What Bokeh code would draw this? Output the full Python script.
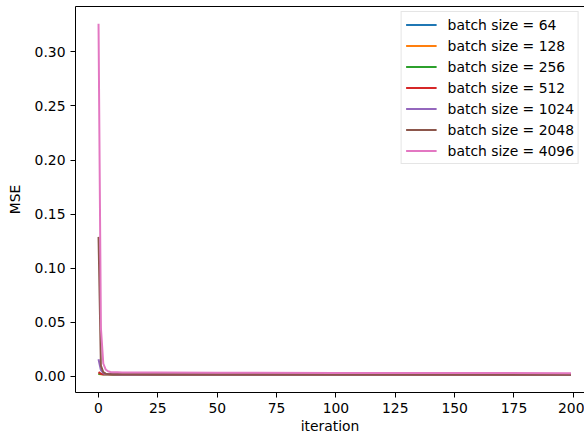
from bokeh.plotting import figure
from bokeh.models import LinearAxis, FixedTicker, Range1d, NumeralTickFormatter
from bokeh.embed import file_html
from bokeh.resources import INLINE

iterations = [0, 1, 2, 3, 4, 5, 6, 8, 10, 15, 25, 50, 100, 150, 199]

mse_64 = [0.0025, 0.0022, 0.0021, 0.0020, 0.0020, 0.0020, 0.0019, 0.0019, 0.0019, 0.0019, 0.0018, 0.0018, 0.0018, 0.0017, 0.0017]
mse_128 = [0.0024, 0.0021, 0.0020, 0.0020, 0.0020, 0.0019, 0.0019, 0.0019, 0.0019, 0.0019, 0.0018, 0.0018, 0.0018, 0.0017, 0.0017]
mse_256 = [0.0026, 0.0022, 0.0020, 0.0020, 0.0020, 0.0020, 0.0019, 0.0019, 0.0019, 0.0019, 0.0019, 0.0018, 0.0018, 0.0018, 0.0017]
mse_512 = [0.0040, 0.0025, 0.0021, 0.0020, 0.0020, 0.0020, 0.0020, 0.0019, 0.0019, 0.0019, 0.0019, 0.0018, 0.0018, 0.0018, 0.0018]
mse_1024 = [0.0160, 0.0060, 0.0030, 0.0023, 0.0021, 0.0020, 0.0020, 0.0019, 0.0019, 0.0019, 0.0019, 0.0018, 0.0018, 0.0018, 0.0018]
mse_2048 = [0.1290, 0.0100, 0.0040, 0.0026, 0.0022, 0.0021, 0.0021, 0.0020, 0.0020, 0.0020, 0.0019, 0.0019, 0.0019, 0.0018, 0.0018]
mse_4096 = [0.3260, 0.0450, 0.0120, 0.0065, 0.0048, 0.0042, 0.0039, 0.0038, 0.0037, 0.0036, 0.0036, 0.0035, 0.0033, 0.0032, 0.0031]

series_labels = ["batch size = 64", "batch size = 128", "batch size = 256", "batch size = 512",
                 "batch size = 1024", "batch size = 2048", "batch size = 4096"]
series_values = [mse_64, mse_128, mse_256, mse_512, mse_1024, mse_2048, mse_4096]
colors = ["#1f77b4", "#ff7f0e", "#2ca02c", "#d62728", "#9467bd", "#8c564b", "#e377c2"]

x_ticks = [0, 25, 50, 75, 100, 125, 150, 175, 200]
y_ticks = [0.0, 0.05, 0.10, 0.15, 0.20, 0.25, 0.30]

FONT = "DejaVu Sans"
FS = "13.9px"

p = figure(width=584, height=436, output_backend="svg", toolbar_location=None,
           x_range=Range1d(-9.7, 204.7), y_range=Range1d(-0.0148, 0.3419),
           min_border_left=75, min_border_right=0, min_border_top=6, min_border_bottom=44)
p.outline_line_color = None
p.xgrid.visible = False
p.ygrid.visible = False
p.background_fill_color = "white"
p.border_fill_color = "white"

for lab, vals, col in zip(series_labels, series_values, colors):
    p.line(iterations, vals, line_color=col, line_width=2, legend_label=lab)

for ax in (p.xaxis[0], p.yaxis[0]):
    ax.axis_line_color = "black"
    ax.axis_line_width = 1
    ax.major_tick_line_color = "black"
    ax.major_tick_out = 5
    ax.major_tick_in = 0
    ax.minor_tick_line_color = None
    ax.major_label_text_font = FONT
    ax.major_label_text_font_size = FS
    ax.major_label_text_color = "black"
    ax.axis_label_text_font = FONT
    ax.axis_label_text_font_size = FS
    ax.axis_label_text_font_style = "normal"
    ax.axis_label_text_color = "black"

p.xaxis[0].ticker = FixedTicker(ticks=x_ticks)
p.yaxis[0].ticker = FixedTicker(ticks=y_ticks)
p.yaxis[0].formatter = NumeralTickFormatter(format="0.00")
p.xaxis[0].axis_label = "iteration"
p.yaxis[0].axis_label = "MSE"
p.xaxis[0].major_label_standoff = 5
p.xaxis[0].axis_label_standoff = 2
p.yaxis[0].major_label_standoff = 5
p.yaxis[0].axis_label_standoff = 9

top = LinearAxis(ticker=FixedTicker(ticks=[]), axis_line_color="black", axis_line_width=1,
                 major_tick_line_color=None, minor_tick_line_color=None)
p.add_layout(top, "above")

lg = p.legend[0]
lg.location = "top_right"
lg.margin = 5
lg.padding = 4
lg.spacing = 4
lg.label_height = 17
lg.glyph_height = 17
lg.glyph_width = 31
lg.label_standoff = 11
lg.label_text_font = FONT
lg.label_text_font_size = FS
lg.label_text_color = "black"
lg.border_line_color = "#cccccc"
lg.border_line_width = 1
lg.background_fill_alpha = 0.8

open("out.html", "w").write(file_html(p, INLINE))
